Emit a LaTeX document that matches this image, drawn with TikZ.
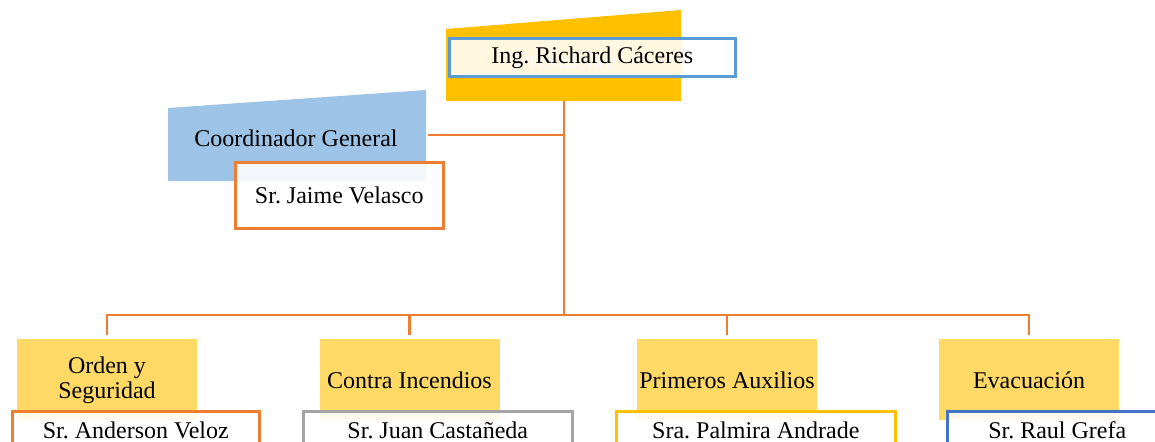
\documentclass[tikz,border=0pt]{standalone}
\usepackage{fontspec}
\setmainfont{Liberation Serif}
\frenchspacing
\definecolor{oro}{HTML}{FFC000}
\definecolor{celeste}{HTML}{9DC3E6}
\definecolor{amarillo}{HTML}{FFD966}
\definecolor{naranja}{HTML}{ED7D31}
\definecolor{azul}{HTML}{5B9BD5}
\definecolor{azuloscuro}{HTML}{4472C4}
\definecolor{gris}{HTML}{A5A5A5}
\tikzset{
  linea/.style={color=naranja, line width=1.45pt},
  cargo/.style={fill=amarillo, anchor=north, minimum width=90pt, minimum height=40.5pt, inner sep=0pt, align=center, font=\fontsize{12}{12.5}\selectfont},
  nombre/.style={draw=#1, line width=1.3pt, fill=white, fill opacity=0.88, text opacity=1, anchor=north west, inner sep=0pt, font=\fontsize{12}{14}\selectfont},
}
\begin{document}
\begin{tikzpicture}[x=0.5pt, y=-0.5pt]
        \useasboundingbox (0,0) rectangle (1155,441);
        % presidente
        \fill[oro] (446,29) -- (681,10) -- (681,101) -- (446,101) -- cycle;
        \node[color=gris!40, font=\fontsize{12}{14}\selectfont] (ptitulo) at (566,60) {Presidente};
        \node[nombre=azul, minimum width=143pt, minimum height=19pt] (richard) at (448,37) {Ing. Richard Cáceres};
        \coordinate (pres) at (564,101);
        % coordinador
        \fill[celeste] (168,108) -- (426,90) -- (426,181) -- (168,181) -- cycle;
        \node[font=\fontsize{12}{14}\selectfont] (coord) at (296,138) {Coordinador General};
        \node[nombre=naranja, minimum width=104pt, minimum height=33pt] (jaime) at (234,161) {Sr. Jaime Velasco};
        \coordinate (cg) at (428,135);
        \coordinate (bus) at (564,315);
        % comisiones
        \node[cargo] (orden) at (107,339) {Orden y\\Seguridad};
        \node[cargo] (contra) at (409.5,339) {Contra Incendios};
        \node[cargo] (primeros) at (727,339) {Primeros Auxilios};
        \node[cargo] (evac) at (1029,339) {Evacuación};
        \node[nombre=naranja, minimum width=123.5pt, minimum height=19pt] (anderson) at (11,410) {Sr. Anderson Veloz};
        \node[nombre=gris, minimum width=134.5pt, minimum height=19pt] (juan) at (302,410) {Sr. Juan Castañeda};
        \node[nombre=oro, minimum width=139.5pt, minimum height=19pt] (palmira) at (615,410) {Sra. Palmira Andrade};
        \node[nombre=azuloscuro, minimum width=110pt, minimum height=19pt] (raul) at (946,410) {Sr. Raul Grefa};
        % lineas
        \draw[linea] (pres) -- (bus);
        \draw[linea] (cg) -- (cg -| pres);
        \draw[linea] ([yshift=2pt]orden.north) -- (orden.north |- bus) -- (evac.north |- bus) -- ([yshift=2pt]evac.north);
        \draw[linea] ([yshift=2pt]contra.north) -- (contra.north |- bus);
        \draw[linea] ([yshift=2pt]primeros.north) -- (primeros.north |- bus);
\end{tikzpicture}
\end{document}
